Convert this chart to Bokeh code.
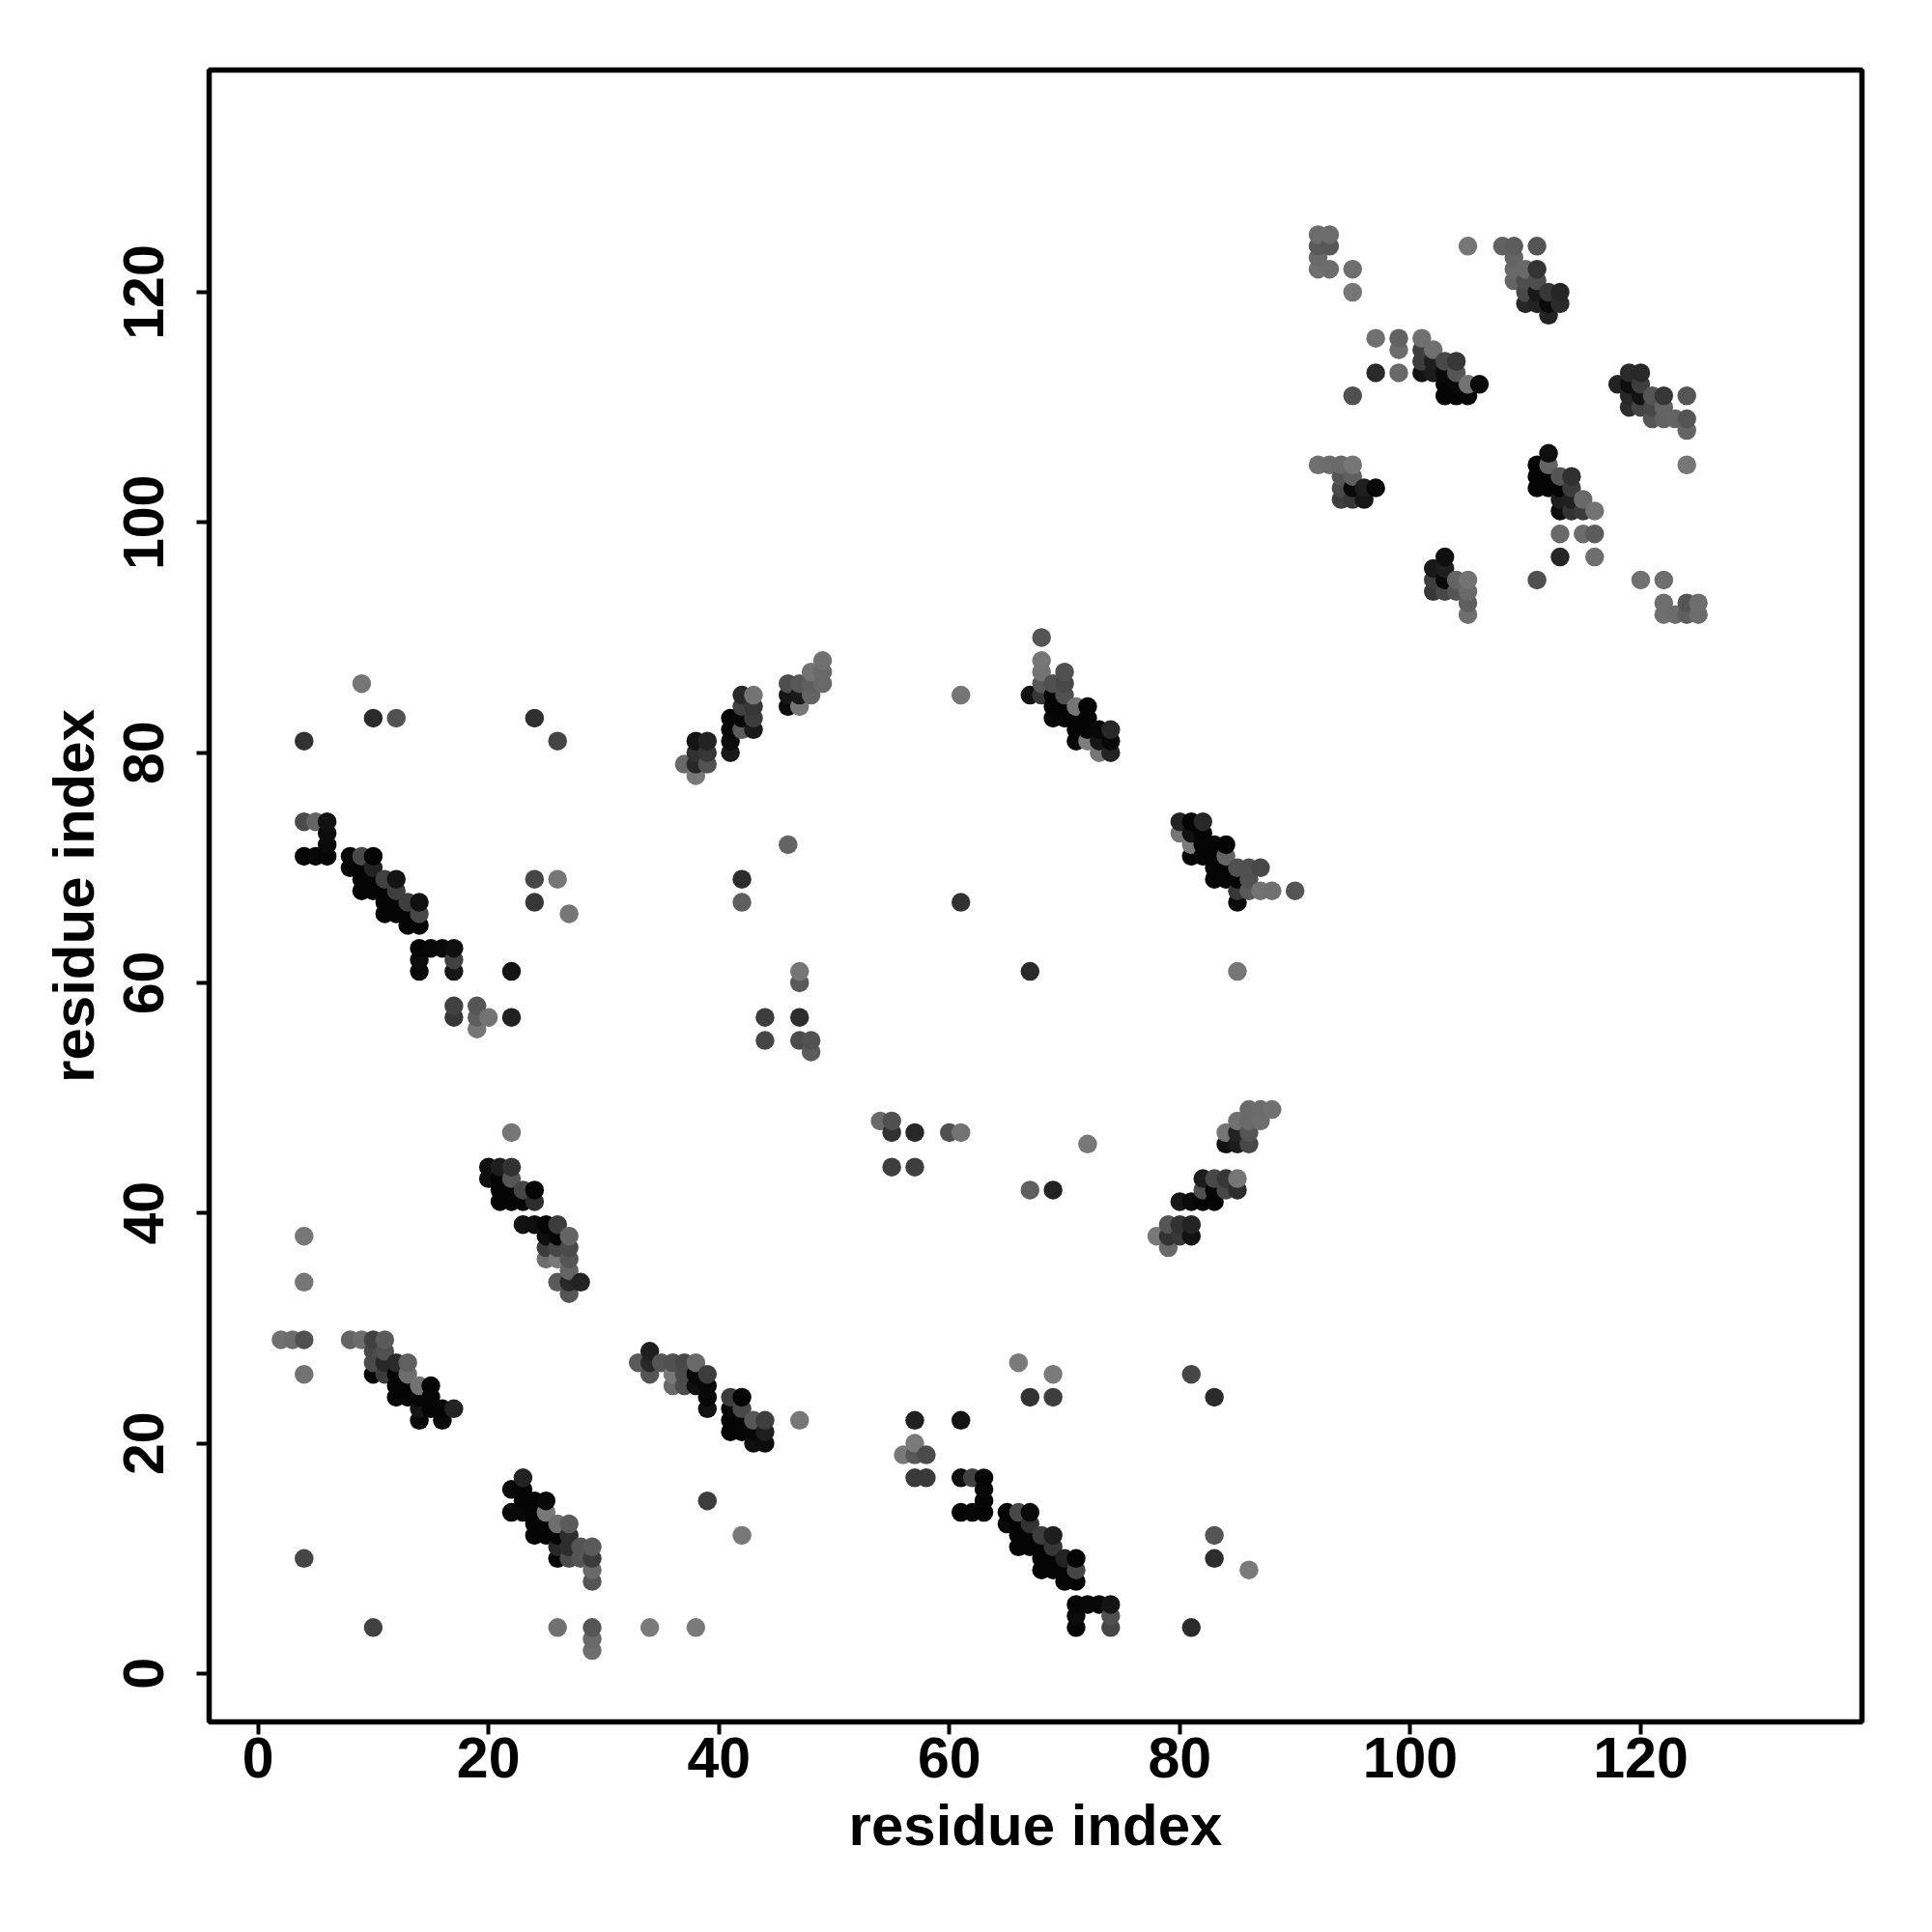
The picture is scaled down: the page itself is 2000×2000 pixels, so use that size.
from bokeh.plotting import figure
from bokeh.models import FixedTicker, Range1d, ColumnDataSource
from bokeh.embed import file_html
from bokeh.resources import INLINE
import numpy as np

tick_values = [0, 20, 40, 60, 80, 100, 120]
axis_title = "residue index"

# each block: residue on x, residue on y, grey level (0-255) of the contact
b1_x = [2,3,4,4,4,4, 8,9,10,11, 10,11, 10,11,12,13, 10,11,12,13, 12,13,14,15, 12,13,14,15, 14,15,16,17, 14,16]
b1_y = [29,29,29,26,34,38, 29,29,29,29, 28,28, 27,27,27,27, 26,26,26,26, 25,25,25,25, 24,24,24,24, 23,23,23,23, 22,22]
b1_g = [112,108,80,115,118,118, 100,108,64,90, 72,80, 76,40,42,96, 5,60,5,110, 5,5,115,5, 5,5,5,5, 20,5,5,35, 8,8]

b2_x = [23, 22,23, 23,24,25, 22,23,24,25, 24,25,26,27, 24,25,26,27, 26,27,28,29, 26,27,28,29, 29,29, 26,29,29,29]
b2_y = [17, 16,16, 15,15,15, 14,14,14,14, 13,13,13,13, 12,12,12,12, 11,11,11,11, 10,10,10,10, 9,8, 4,4,3,2]
b2_g = [35, 8,5, 5,5,8, 8,8,5,120, 5,5,110,90, 5,5,5,45, 40,45,85,90, 5,75,85,60, 105,85, 112,85,105,110]

b3_x = [22, 20,21,22, 20,21,22, 21,22,23,24, 21,22,23,24, 23,24,25,26, 25,26,27, 25,26,27, 25,26,27, 27, 26,27,28, 27]
b3_y = [47, 44,44,44, 43,43,43, 42,42,42,42, 41,41,41,41, 39,39,39,39, 38,38,38, 37,37,37, 36,36,36, 35, 34,34,34, 33]
b3_g = [118, 15,30,50, 15,5,85, 5,5,70,5, 5,5,5,45, 18,15,5,60, 15,5,100, 60,70,75, 110,120,85, 100, 90,40,35, 85]

b4_x = [34, 33,34,35,36,37,38, 34,36,37,38,39, 36,37,38,39, 39, 39, 41,42, 41,42, 41,42,43,44, 41,42,43,44, 43,44, 47]
b4_y = [28, 27,27,27,27,27,27, 26,26,26,26,26, 25,25,25,25, 24, 23, 24,24, 23,23, 22,22,22,22, 21,21,21,21, 20,20, 22]
b4_g = [30, 90,40,85,80,72,105, 85,120,75,8,60, 105,75,15,8, 8, 18, 60,5, 8,72, 5,5,88,62, 5,5,8,30, 15,12, 118]

b5_x = [61,62,63, 63, 63, 61,62,63, 65,66,67, 65,66,67, 66,67,68,69, 66,67,68,69, 68,69,70,71, 68,69,70,71, 70,71, 71,72,73,74, 71,74, 71,74]
b5_y = [17,17,17, 16, 15, 14,14,14, 14,14,14, 13,13,13, 12,12,12,12, 11,11,11,11, 10,10,10,10, 9,9,9,9, 8,8, 6,6,6,6, 5,5, 4,4]
b5_g = [15,65,5, 8, 5, 5,8,5, 5,72,10, 10,5,50, 5,5,60,30, 5,5,5,55, 5,5,35,5, 5,5,5,70, 5,5, 5,8,8,20, 12,80, 5,70]

b6_x = [78,79,80,81, 79, 79,80,81, 80,81,82,83, 82,83,84,85, 82,83,84,85, 84,85,86, 84,85,86, 85,86,87, 86,87,88]
b6_y = [38,38,38,38, 37, 39,39,39, 41,41,41,41, 42,42,42,42, 43,43,43,43, 46,46,46, 47,47,47, 48,48,48, 49,49,49]
b6_g = [120,50,56,18, 105, 85,50,35, 22,10,5,5, 80,5,72,45, 28,72,55,118, 18,28,72, 118,35,85, 112,105,110, 105,108,112]

b7_x = [4,5,6, 6, 6, 4,5,6, 8,9,10, 8,9,10, 9,10,11,12, 9,10,11,12, 11,12,13,14, 11,12,13,14, 13,14, 14,15,16,17, 14,17, 14,17]
b7_y = [74,74,74, 73, 72, 71,71,71, 71,71,71, 70,70,70, 69,69,69,69, 68,68,68,68, 67,67,67,67, 66,66,66,66, 65,65, 63,63,63,63, 62,62, 61,61]
b7_g = [75,100,18, 12, 10, 5,8,5, 8,72,5, 8,5,35, 5,5,65,20, 5,5,5,62, 5,5,62,16, 5,5,5,72, 5,5, 5,8,10,15, 12,65, 8,22]

b8_x = [17,19, 17,19,20,22, 19, 22]
b8_y = [58,58, 57,57,57,57, 56, 61]
b8_g = [65,85, 55,95,115,32, 118, 20]

b9_x = [37,38,39, 38,39, 38,39, 38, 41,42,43, 41,42,43, 41, 41, 42,43, 42,43]
b9_y = [79,79,79, 80,80, 81,81, 78, 83,83,83, 82,82,82, 81, 80, 84,84, 85,85]
b9_g = [105,40,82, 48,55, 20,35, 120, 5,8,60, 8,90,25, 12, 25, 65,55, 40,115]

b10_x = [46,47,48, 46,47,48,49, 46,47, 48,49, 49]
b10_y = [86,86,86, 85,85,85,86, 84,84, 87,87, 88]
b10_g = [78,88,95, 22,25,100,105, 12,118, 115,105, 112]

b11_x = [68, 68, 68,70, 68,69,70, 67,68,69,70, 69,70,71,72, 69,70,71,72, 71,72,73,74, 71,72,73,74, 73,74]
b11_y = [90, 88, 87,87, 86,86,86, 85,85,85,85, 84,84,84,84, 83,83,83,83, 82,82,82,82, 81,81,81,81, 80,80]
b11_g = [85, 118, 115,80, 88,80,72, 18,55,5,80, 5,5,118,5, 5,5,5,5, 5,5,8,40, 5,125,22,8, 118,35]

b12_x = [80,81,82, 80,81,82, 81,82,83,84, 81,82,83,84, 83,84,85,86,87, 83,84,85,86, 85,86,87,88,90, 85]
b12_y = [74,74,74, 73,73,73, 72,72,72,72, 71,71,71,71, 70,70,70,70,70, 69,69,69,69, 68,68,68,68,68, 67]
b12_g = [35,5,40, 118,18,5, 122,5,5,5, 5,5,5,100, 5,5,80,80,72, 5,5,5,80, 55,88,115,112,85, 10]

b13_x = [92,93, 92,93, 92, 92,93,95, 95, 97,99, 99, 97,99, 95]
b13_y = [125,125, 124,124, 123, 122,122,122, 120, 116,116, 115, 113,113, 111]
b13_g = [108,108, 90,88, 105, 112,108,110, 118, 112,98, 108, 42,105, 80]

b14_x = [101, 101,102, 101,102,103,104, 101,102,103,104, 103,104,105,106, 103,104,105]
b14_y = [116, 115,115, 114,114,114,114, 113,113,113,113, 112,112,112,112, 111,111,111]
b14_g = [112, 62,112, 60,30,72,55, 20,28,10,85, 5,8,115,10, 5,5,8]

b15_x = [105,108,109,111, 109, 109,110,111, 109,110,111, 110,111,112,113, 110,111,112,113, 112]
b15_y = [124,124,124,124, 123, 122,122,122, 121,121,121, 120,120,120,120, 119,119,119,119, 118]
b15_g = [118,98,92,85, 100, 105,105,52, 100,78,78, 72,25,55,38, 40,35,10,42, 35]

b16_x = [119,120, 118,119,120, 119,120,121,122,124, 119,120,121,122, 121,122,123,124, 124]
b16_y = [113,113, 112,112,112, 111,111,111,111,111, 110,110,110,110, 109,109,109,109, 108]
b16_g = [42,40, 35,15,62, 40,18,85,55,85, 45,68,72,100, 85,98,100,85, 100]

b17_x = [92,93,94,95, 94,95, 94,95,96,97, 94,95,96]
b17_y = [105,105,105,105, 104,104, 103,103,103,103, 102,102,102]
b17_g = [112,108,105,118, 85,95, 75,10,30,8, 62,55,22]

b18_x = [112, 111,112, 111,112,113,114, 111,112,113,114, 113,114,115, 113,114,115,116, 113,115,116, 113,116, 111, 124]
b18_y = [106, 105,105, 104,104,104,104, 103,103,103,103, 102,102,102, 101,101,101,101, 99,99,99, 97,97, 95, 105]
b18_g = [15, 5,100, 5,5,85,48, 5,5,5,60, 30,32,105, 12,50,58,115, 105,108,92, 38,110, 80, 118]

b19_x = [103, 102,103, 102,103,104,105, 102,103,104,105, 105, 105, 120,122, 122,124,125, 122,123,124,125]
b19_y = [97, 96,96, 95,95,95,95, 94,94,94,94, 93, 92, 95,95, 93,93,93, 92,92,92,92]
b19_g = [15, 25,30, 62,10,100,115, 55,72,85,105, 95, 110, 112,110, 110,85,110, 112,108,95,108]

iso_x = [4,10, 9,4,10,12,24,26, 24,26,24,27, 42,42,46, 47,47,44,44,47,47,48,48, 61,61,67,85,
         54,55,55,57,60,61,55,57,72,67,69, 39,42,34,38, 57,61,57,56,57,58,57,58,
         66,69,67,69,81,83,83,83,86,81]
iso_y = [10,4, 86,81,83,83,83,81, 69,69,67,66, 69,67,72, 61,60,57,55,57,55,55,54, 85,67,61,61,
         48,48,47,47,47,47,44,44,46,42,42, 15,12,4,4, 22,22,20,19,19,19,17,17,
         27,26,24,24,26,24,12,10,9,4]
iso_g = [70,65, 118,50,42,82,48,68, 70,118,55,118, 45,95,100, 118,90,60,70,45,75,82,92, 118,50,42,118,
         105,80,50,40,80,115,62,62,120,95,35, 60,120,122,122, 32,20,122,120,88,75,58,58,
         122,122,50,62,70,42,85,45,122,42]

parts_x = [b1_x,b2_x,b3_x,b4_x,b5_x,b6_x,b7_x,b8_x,b9_x,b10_x,b11_x,b12_x,b13_x,b14_x,b15_x,b16_x,b17_x,b18_x,b19_x,iso_x]
parts_y = [b1_y,b2_y,b3_y,b4_y,b5_y,b6_y,b7_y,b8_y,b9_y,b10_y,b11_y,b12_y,b13_y,b14_y,b15_y,b16_y,b17_y,b18_y,b19_y,iso_y]
parts_g = [b1_g,b2_g,b3_g,b4_g,b5_g,b6_g,b7_g,b8_g,b9_g,b10_g,b11_g,b12_g,b13_g,b14_g,b15_g,b16_g,b17_g,b18_g,b19_g,iso_g]

x = np.concatenate(parts_x)
y = np.concatenate(parts_y)
g = np.concatenate(parts_g)
order = np.lexsort((y, x))
x, y, g = x[order], y[order], g[order]
colors = ["#%02x%02x%02x" % (v, v, v) for v in g]
source = ColumnDataSource(dict(x=x, y=y, color=colors))

p = figure(frame_width=1711, frame_height=1710,
           x_range=Range1d(-4.24, 139.2), y_range=Range1d(-4.2, 139.3),
           min_border_left=216, min_border_top=72, min_border_right=30, min_border_bottom=120,
           output_backend="svg", toolbar_location=None)
p.scatter("x", "y", source=source, size=19.5, fill_color="color", line_color=None, marker="circle")

p.grid.visible = False
p.outline_line_color = "black"
p.outline_line_width = 5.5
p.background_fill_color = "white"
for ax in (p.xaxis[0], p.yaxis[0]):
    ax.ticker = FixedTicker(ticks=tick_values)
    ax.axis_line_color = None
    ax.major_tick_line_color = "black"
    ax.major_tick_line_width = 4
    ax.major_tick_out = 13
    ax.major_tick_in = 0
    ax.minor_tick_line_color = None
    ax.major_label_text_font = "Liberation Sans"
    ax.major_label_text_font_style = "bold"
    ax.major_label_text_font_size = "59px"
    ax.major_label_text_color = "black"
    ax.axis_label = axis_title
    ax.axis_label_text_font = "Liberation Sans"
    ax.axis_label_text_font_style = "bold"
    ax.axis_label_text_font_size = "60px"
    ax.axis_label_text_color = "black"
p.yaxis[0].major_label_orientation = "vertical"
p.xaxis[0].major_label_standoff = 3
p.yaxis[0].major_label_standoff = 34
p.xaxis[0].axis_label_standoff = 13
p.yaxis[0].axis_label_standoff = 16

open("out.html", "w").write(file_html(p, INLINE))
